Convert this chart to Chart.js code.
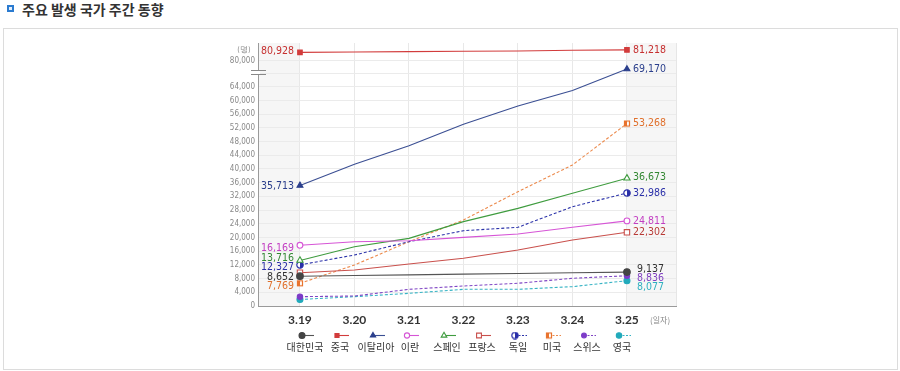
<!DOCTYPE html>
<html>
<head>
<meta charset="utf-8">
<script src="https://cdn.jsdelivr.net/npm/chart.js@4.4.1/dist/chart.umd.min.js"></script>
<style>
  html, body { margin: 0; padding: 0; background: #fff; }
  body { width: 900px; height: 371px; position: relative; overflow: hidden; font-family: "Noto Sans CJK KR", sans-serif; }
  #icon { position: absolute; left: 7px; top: 5px; width: 3px; height: 3px; border: 2.5px solid #2b7bd0; background: #e4eefa; }
  #title { position: absolute; left: 22px; top: 0; font-size: 14px; line-height: 18px; font-weight: bold; color: #333; }
  #box { position: absolute; left: 3px; top: 28px; width: 893px; height: 340px; border: 1px solid #dcdcdc; }
  #chart { position: absolute; left: 0; top: 0; }
</style>
</head>
<body>
<div id="icon"></div>
<div id="title">주요 발생 국가 주간 동향</div>
<div id="box"></div>
<canvas id="chart" width="900" height="371"></canvas>
<script>
// dates on the x axis
const days = ['3.19', '3.20', '3.21', '3.22', '3.23', '3.24', '3.25'];
const countries = ['대한민국', '중국', '이탈리아', '이란', '스페인', '프랑스', '독일', '미국', '스위스', '영국'];

// confirmed cases per country
const korea   = [8700, 8900, 9100, 9300, 9500, 9700, 9900];
const china   = [80928, 80967, 81008, 81054, 81093, 81171, 81218];
const italy   = [35200, 41400, 46800, 53040, 58400, 62900, 69170];
const iran    = [17720, 18770, 19070, 20050, 21020, 22970, 24850];
const spain   = [13300, 17300, 19750, 24630, 28500, 32900, 37300];
const france  = [9730, 10510, 12260, 13920, 16350, 19270, 21520];
const germany = [12000, 14890, 18770, 21990, 22970, 29000, 32986];
const usa     = [6630, 11970, 18770, 25110, 33380, 41170, 53268];
const swiss   = [2720, 2920, 4870, 5840, 6630, 8090, 8836];
const uk      = [1900, 2720, 3700, 4870, 4870, 5640, 7390];

// printed labels at both ends
const startLabels = ['8,652', '80,928', '35,713', '16,169', '13,716', '', '12,327', '7,769', '', ''];
const endLabels   = ['9,137', '81,218', '69,170', '24,811', '36,673', '22,302', '32,986', '53,268', '8,836', '8,077'];

const yTicks = [0, 4000, 8000, 12000, 16000, 20000, 24000, 28000, 32000, 36000, 40000,
  44000, 48000, 52000, 56000, 60000, 64000, 68000, 80000];

const allSeries = [korea, china, italy, iran, spain, france, germany, usa, swiss, uk];

// --- styling / layout (not data) ---
const NARROW = "'Liberation Sans Narrow', 'DejaVu Sans Condensed', sans-serif";
const yBreak = [[0, 0], [70000, 0.9116], [80000, 0.9335], [82000, 1]];
const startOffset = [1, -0.7, 0.6, 3, -2, 0, 2.4, 3.4, 0, 0];
const endOffset = [-3, 0, 0, 0, -1, 0, 0, 0, 2.6, 7];
const endShift = [10, 6, 6, 6, 6, 6, 6, 6, 10, 10];
const legendX = [305, 340, 376, 410, 447, 482, 518, 552, 587, 622];

function halfCircle(color) {
  const c = document.createElement('canvas');
  c.width = 8; c.height = 8;
  const g = c.getContext('2d');
  g.beginPath(); g.arc(4, 4, 3.2, 0, Math.PI * 2); g.fillStyle = '#fff'; g.fill();
  g.beginPath(); g.moveTo(4, 4); g.arc(4, 4, 3.2, -Math.PI / 2, Math.PI / 2); g.closePath();
  g.fillStyle = color; g.fill();
  g.beginPath(); g.arc(4, 4, 3.2, 0, Math.PI * 2); g.lineWidth = 1.2; g.strokeStyle = color; g.stroke();
  return c;
}
function halfSquare(color) {
  const c = document.createElement('canvas');
  c.width = 8; c.height = 8;
  const g = c.getContext('2d');
  g.fillStyle = '#fff'; g.fillRect(1, 1, 6, 6);
  g.fillStyle = color; g.fillRect(1, 1, 3, 6);
  g.lineWidth = 1.2; g.strokeStyle = color; g.strokeRect(1.5, 1.5, 5, 5);
  return c;
}

const seriesStyle = [
  { line: '#555555', text: '#333333', dash: [], point: 'circle', r: 3.3, fill: '#444444', border: '#444444' },
  { line: '#d23c3c', text: '#c62f2f', dash: [], point: 'rect', r: 3.2, fill: '#d23c3c', border: '#d23c3c' },
  { line: '#3b4f93', text: '#2b3f8c', dash: [], point: 'triangle', r: 3.4, fill: '#2b3f8c', border: '#2b3f8c' },
  { line: '#d655d6', text: '#c23ec2', dash: [], point: 'circle', r: 2.9, fill: '#ffffff', border: '#d655d6' },
  { line: '#3f9c3f', text: '#338833', dash: [], point: 'triangle', r: 3.6, fill: '#ffffff', border: '#3f9c3f' },
  { line: '#c9504c', text: '#b83a36', dash: [], point: 'rect', r: 3.8, fill: '#ffffff', border: '#c9504c' },
  { line: '#2d34aa', text: '#2a2fa8', dash: [3, 2], point: halfCircle('#2a2fa8'), r: 3.3, fill: '#2a2fa8', border: '#2a2fa8' },
  { line: '#ec8a4c', text: '#e0702c', dash: [3, 2], point: halfSquare('#e8732e'), r: 3.3, fill: '#e8732e', border: '#e8732e' },
  { line: '#7f45c4', text: '#8040c0', dash: [3, 2], point: 'circle', r: 2.7, fill: '#7d3cc8', border: '#7d3cc8' },
  { line: '#35b3c4', text: '#2fb0c0', dash: [3, 2], point: 'circle', r: 3, fill: '#22aabb', border: '#22aabb' }
];

function toFrac(v) {
  for (let i = 1; i < yBreak.length; i++) {
    const [v0, f0] = yBreak[i - 1], [v1, f1] = yBreak[i];
    if (v <= v1 || i === yBreak.length - 1) return f0 + (v - v0) / (v1 - v0) * (f1 - f0);
  }
}
function fromFrac(f) {
  for (let i = 1; i < yBreak.length; i++) {
    const [v0, f0] = yBreak[i - 1], [v1, f1] = yBreak[i];
    if (f <= f1 || i === yBreak.length - 1) return v0 + (f - f0) / (f1 - f0) * (v1 - v0);
  }
}

// linear axis with a gap between 70,000 and 80,000
class BrokenScale extends Chart.LinearScale {
  getPixelForValue(value) {
    return value == null ? NaN : this.getPixelForDecimal(toFrac(value));
  }
  getValueForPixel(pixel) {
    return fromFrac(this.getDecimalForPixel(pixel));
  }
}
BrokenScale.id = 'broken';
BrokenScale.defaults = Chart.LinearScale.defaults;
Chart.register(BrokenScale);

const datasets = allSeries.map((vals, i) => {
  const s = seriesStyle[i];
  const last = vals.length - 1;
  return {
    label: countries[i],
    data: vals.map((v, k) => ({ x: k, y: v })),
    borderColor: s.line,
    borderWidth: 1.1,
    borderDash: s.dash,
    backgroundColor: s.fill,
    pointStyle: s.point,
    pointRadius: vals.map((v, k) => (k === 0 || k === last) ? s.r : 0),
    pointBackgroundColor: s.fill,
    pointBorderColor: s.border,
    pointBorderWidth: 1.1,
    tension: 0,
    fill: false
  };
});

const bands = {
  id: 'bands',
  beforeDraw(chart) {
    const { ctx, chartArea } = chart;
    const x = chart.scales.x;
    ctx.save();
    ctx.fillStyle = '#f6f6f6';
    const x0 = x.getPixelForValue(0), x6 = x.getPixelForValue(days.length - 1);
    ctx.fillRect(chartArea.left, chartArea.top, x0 - chartArea.left, chartArea.bottom - chartArea.top);
    ctx.fillRect(x6, chartArea.top, chartArea.right - x6, chartArea.bottom - chartArea.top);
    ctx.restore();
  },
  afterDraw(chart) {
    const { ctx, chartArea } = chart;
    ctx.save();
    // right edge line
    ctx.strokeStyle = '#e6e6e6';
    ctx.lineWidth = 1;
    ctx.beginPath();
    ctx.moveTo(chartArea.right + 0.5, chartArea.top);
    ctx.lineTo(chartArea.right + 0.5, chartArea.bottom);
    ctx.stroke();
    // axis break mark
    const ax = chartArea.left;
    ctx.fillStyle = '#fff';
    ctx.fillRect(ax - 2, 71, 4, 3);
    ctx.strokeStyle = '#888';
    ctx.beginPath();
    ctx.moveTo(ax - 7, 70.5); ctx.lineTo(ax + 8, 70.5);
    ctx.moveTo(ax - 7, 74.5); ctx.lineTo(ax + 8, 74.5);
    ctx.stroke();
    // units
    ctx.fillStyle = '#888';
    ctx.font = '7.5px ' + NARROW;
    ctx.textAlign = 'center';
    ctx.textBaseline = 'middle';
    ctx.fillText('(명)', ax - 14, 50);
    ctx.font = '8px "Noto Sans CJK KR", sans-serif';
    ctx.textAlign = 'left';
    ctx.fillText('(일자)', 650, 320);
    ctx.restore();
  }
};

const pointLabels = {
  id: 'pointLabels',
  afterDatasetsDraw(chart) {
    const ctx = chart.ctx;
    ctx.save();
    ctx.font = '10.5px ' + NARROW;
    ctx.textBaseline = 'middle';
    chart.data.datasets.forEach((ds, i) => {
      const pts = chart.getDatasetMeta(i).data;
      ctx.fillStyle = seriesStyle[i].text;
      if (startLabels[i]) {
        ctx.textAlign = 'right';
        ctx.fillText(startLabels[i], pts[0].x - 6, pts[0].y + startOffset[i]);
      }
      if (endLabels[i]) {
        const p = pts[pts.length - 1];
        ctx.textAlign = 'left';
        ctx.fillText(endLabels[i], p.x + endShift[i], p.y + endOffset[i]);
      }
    });
    ctx.restore();
  }
};

const legendRow = {
  id: 'legendRow',
  afterDraw(chart) {
    const ctx = chart.ctx;
    ctx.save();
    countries.forEach((name, i) => {
      const s = seriesStyle[i];
      const cx = legendX[i];
      const y = 335;
      ctx.strokeStyle = s.line;
      ctx.lineWidth = 1.1;
      ctx.setLineDash(s.dash.length ? [2, 1.5] : []);
      ctx.beginPath();
      ctx.moveTo(cx - 3, y + 0.5);
      ctx.lineTo(cx + 9, y + 0.5);
      ctx.stroke();
      ctx.setLineDash([]);
      ctx.fillStyle = s.fill;
      ctx.strokeStyle = s.border;
      ctx.lineWidth = 1.1;
      Chart.helpers.drawPoint(ctx, { pointStyle: s.point, radius: s.r * 0.9, rotation: 0, borderWidth: 1.1 }, cx - 3, y + 0.5);
      ctx.fillStyle = '#333';
      ctx.font = '10px "Noto Sans CJK KR", sans-serif';
      ctx.textAlign = 'center';
      ctx.textBaseline = 'middle';
      ctx.fillText(name, cx, 347);
    });
    ctx.restore();
  }
};

new Chart(document.getElementById('chart'), {
  type: 'line',
  data: { datasets },
  options: {
    responsive: false,
    animation: false,
    events: [],
    layout: { autoPadding: false, padding: { left: 218, right: 224, top: 43, bottom: 0 } },
    plugins: { legend: { display: false }, tooltip: { enabled: false } },
    scales: {
      x: {
        type: 'linear',
        min: -0.77,
        max: 6.9,
        afterBuildTicks: s => { s.ticks = days.map((d, k) => ({ value: k })); },
        afterFit: s => { s.height = 65; },
        grid: { color: '#e8e8e8', drawTicks: false },
        border: { color: '#9a9a9a', width: 1 },
        ticks: {
          autoSkip: false,
          maxRotation: 0,
          padding: 7,
          color: '#333',
          font: { family: 'Lato, sans-serif', size: 12, weight: 'bold' },
          callback: v => days[v]
        }
      },
      y: {
        type: 'broken',
        min: 0,
        max: 82000,
        afterBuildTicks: s => { s.ticks = yTicks.map(v => ({ value: v })); },
        afterFit: s => { s.width = 40; },
        grid: { color: '#ebebeb', drawTicks: false },
        border: { color: '#9a9a9a', width: 1 },
        ticks: {
          padding: 3,
          color: '#888',
          font: { family: NARROW, size: 8 },
          callback: v => v === 68000 ? '' : v.toLocaleString('en-US')
        }
      }
    }
  },
  plugins: [bands, pointLabels, legendRow]
});
</script>
</body>
</html>
